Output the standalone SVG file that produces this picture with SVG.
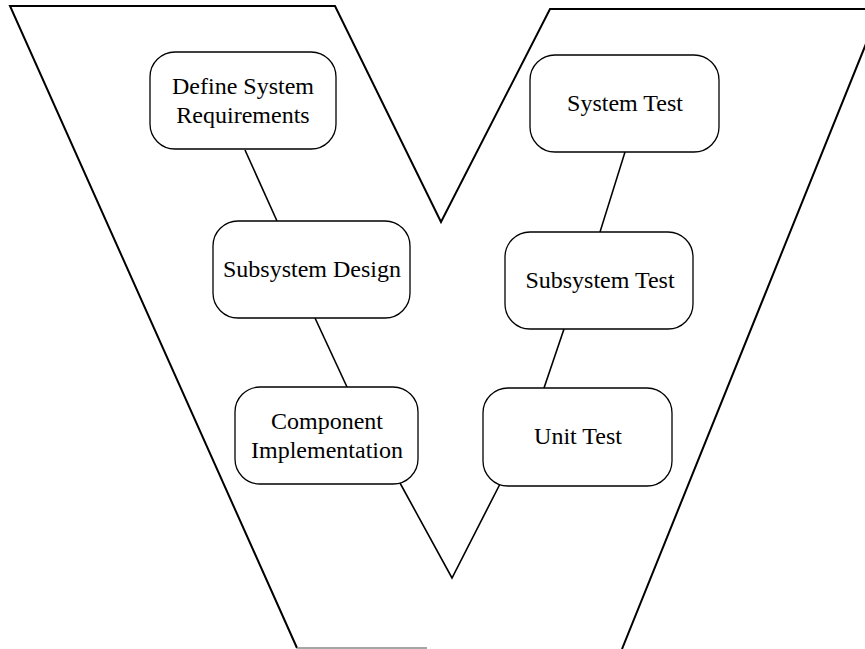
<svg xmlns="http://www.w3.org/2000/svg" width="865" height="649" viewBox="0 0 865 649">
  <style>
    .frame { fill: none; stroke: #000; stroke-width: 2; stroke-linejoin: miter; }
    .box { fill: #fff; stroke: #000; stroke-width: 1.3; }
    .link { fill: none; stroke: #000; stroke-width: 1.6; }
    .label { font-family: "Liberation Serif", "Times New Roman", serif; font-size: 24px; fill: #000; text-anchor: middle; }
  </style>
  <rect width="865" height="649" fill="#fff"/>

  <!-- V-shaped outline -->
  <g id="v-frame">
    <path class="frame" d="M297,648 L10,6 L335,6 L441,222 L550,9 L880,9 L622,649"/>
    <line x1="297" y1="648" x2="427" y2="648" stroke="#888" stroke-width="1.5"/>
  </g>

  <!-- connectors between stages -->
  <g id="connectors">
    <line class="link" x1="245" y1="150" x2="277" y2="221"/>
    <line class="link" x1="315" y1="318" x2="347" y2="387"/>
    <polyline class="link" points="400,483 452,578 500,484"/>
    <line class="link" x1="625" y1="152" x2="600" y2="232"/>
    <line class="link" x1="564" y1="329" x2="544" y2="388"/>
  </g>

  <g id="define-system-requirements">
    <rect class="box" x="150" y="52" width="186" height="97" rx="25" ry="25"/>
    <text class="label" x="243" y="94">Define System</text>
    <text class="label" x="243" y="123">Requirements</text>
  </g>

  <g id="subsystem-design">
    <rect class="box" x="213" y="221" width="197" height="97" rx="25" ry="25"/>
    <text class="label" x="312" y="277">Subsystem Design</text>
  </g>

  <g id="component-implementation">
    <rect class="box" x="235" y="387" width="183" height="97" rx="25" ry="25"/>
    <text class="label" x="327" y="429">Component</text>
    <text class="label" x="327" y="458">Implementation</text>
  </g>

  <g id="system-test">
    <rect class="box" x="530" y="55" width="189" height="97" rx="25" ry="25"/>
    <text class="label" x="625" y="111">System Test</text>
  </g>

  <g id="subsystem-test">
    <rect class="box" x="505" y="232" width="188" height="97" rx="25" ry="25"/>
    <text class="label" x="600" y="288">Subsystem Test</text>
  </g>

  <g id="unit-test">
    <rect class="box" x="483" y="388" width="189" height="98" rx="25" ry="25"/>
    <text class="label" x="578" y="444">Unit Test</text>
  </g>
</svg>
